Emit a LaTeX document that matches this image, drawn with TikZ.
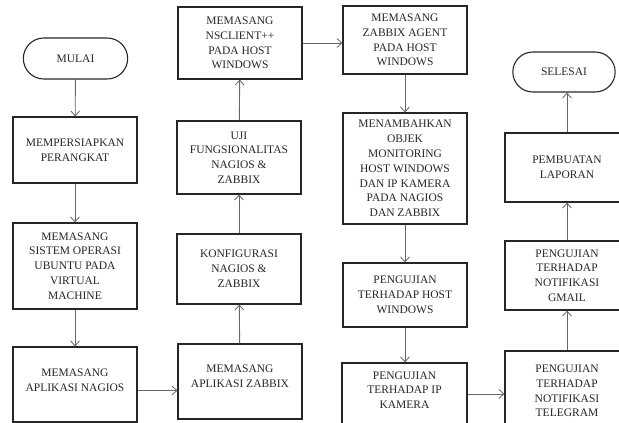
\documentclass[tikz,border=0pt]{standalone}
\usepackage{fontspec}
\setmainfont{Liberation Serif}
\usetikzlibrary{arrows.meta,shapes.misc}
\tikzset{
  box/.style={draw=black!85, line width=1.1pt, rectangle, align=center, inner sep=2pt,
    font=\fontsize{11.5}{14.8}\selectfont, text=black!85},
  term/.style={draw=black!85, line width=1.1pt, rounded rectangle, align=center,
    font=\fontsize{11.5}{14.8}\selectfont, text=black!85},
  arr/.style={draw=black!60, line width=0.9pt, -{Straight Barb[length=5pt,width=9pt,line width=0.8pt]}},
}
\begin{document}
\begin{tikzpicture}[x=1pt,y=-1pt]
\useasboundingbox (0,0) rectangle (619,423);
% column 1
\node[term, minimum width=111pt, minimum height=41pt] (mulai) at (75.5,58.5) {MULAI};
\node[box, minimum width=124pt, minimum height=66pt] (siap) at (75,150) {MEMPERSIAPKAN\\PERANGKAT};
\node[box, minimum width=124pt, minimum height=86pt] (os) at (75,266) {MEMASANG\\SISTEM OPERASI\\UBUNTU PADA\\VIRTUAL\\MACHINE};
\node[box, minimum width=124pt, minimum height=75pt, text depth=8pt] (nagios) at (75,384.5) {MEMASANG\\APLIKASI NAGIOS};
% column 2
\node[box, minimum width=124pt, minimum height=72pt] (nsc) at (240,43) {MEMASANG\\NSCLIENT++\\PADA HOST\\WINDOWS};
\node[box, minimum width=124pt, minimum height=73pt] (uji) at (239,157.5) {UJI\\FUNGSIONALITAS\\NAGIOS \&\\ZABBIX};
\node[box, minimum width=124pt, minimum height=70pt] (konf) at (239,269) {KONFIGURASI\\NAGIOS \&\\ZABBIX};
\node[box, minimum width=124pt, minimum height=75pt, text depth=10pt] (zabbix) at (240,381.5) {MEMASANG\\APLIKASI ZABBIX};
% column 3
\node[box, minimum width=124pt, minimum height=68pt] (agent) at (405,40) {MEMASANG\\ZABBIX AGENT\\PADA HOST\\WINDOWS};
\node[box, minimum width=124pt, minimum height=111pt] (tambah) at (405,168.5) {MENAMBAHKAN\\OBJEK\\MONITORING\\HOST WINDOWS\\DAN IP KAMERA\\PADA NAGIOS\\DAN ZABBIX};
\node[box, minimum width=124pt, minimum height=64pt] (host) at (405,295) {PENGUJIAN\\TERHADAP HOST\\WINDOWS};
\node[box, minimum width=125pt, minimum height=68pt, text depth=14pt] (ipcam) at (404.5,397) {PENGUJIAN\\TERHADAP IP\\KAMERA};
% column 4
\node[term, minimum width=109pt, minimum height=40pt] (selesai) at (564,72) {SELESAI};
\node[box, minimum width=124pt, minimum height=69pt] (lapor) at (567,167.5) {PEMBUATAN\\LAPORAN};
\node[box, minimum width=124pt, minimum height=69pt] (gmail) at (567,275.5) {PENGUJIAN\\TERHADAP\\NOTIFIKASI\\GMAIL};
\node[box, minimum width=124pt, minimum height=80pt] (tele) at (567,391) {PENGUJIAN\\TERHADAP\\NOTIFIKASI\\TELEGRAM};
% connectors
\draw[arr] (mulai) -- (siap);
\draw[arr] (siap) -- (os);
\draw[arr] (os) -- (nagios);
\draw[arr] ([yshift=-6pt]nagios.east) -- ([yshift=-6pt]nagios.east -| zabbix.west);
\draw[arr] (zabbix) -- (konf);
\draw[arr] (konf) -- (uji);
\draw[arr] (uji) -- (nsc);
\draw[arr] (nsc.east) -- (nsc.east -| agent.west);
\draw[arr] (agent) -- (tambah);
\draw[arr] (tambah) -- (host);
\draw[arr] (host) -- (host.south |- ipcam.north);
\draw[arr] ([yshift=3pt]ipcam.east) -- ([yshift=3pt]ipcam.east -| tele.west);
\draw[arr] (tele.north -| gmail.south) -- (gmail.south);
\draw[arr] (gmail) -- (lapor);
\draw[arr] (lapor.north) -- (lapor.north |- selesai.south);
\end{tikzpicture}
\end{document}
